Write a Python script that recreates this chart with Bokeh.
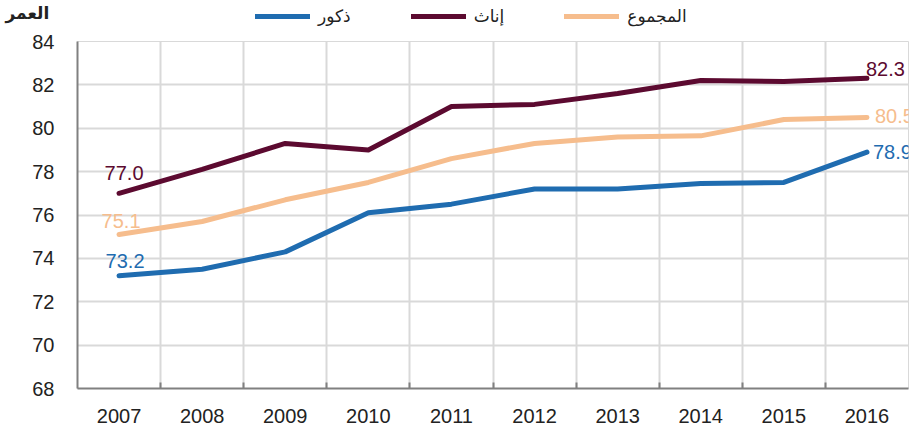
from bokeh.plotting import figure
from bokeh.layouts import column
from bokeh.models import (ColumnDataSource, FixedTicker, Legend, LegendItem, Range1d, Label)
from bokeh.core.properties import value
from bokeh.embed import file_html
from bokeh.resources import INLINE

years = [2007, 2008, 2009, 2010, 2011, 2012, 2013, 2014, 2015, 2016]
males = [73.2, 73.5, 74.3, 76.1, 76.5, 77.2, 77.2, 77.45, 77.5, 78.9]
females = [77.0, 78.1, 79.3, 79.0, 81.0, 81.1, 81.6, 82.2, 82.15, 82.3]
total = [75.1, 75.7, 76.7, 77.5, 78.6, 79.3, 79.6, 79.65, 80.4, 80.5]
y_ticks = [68, 70, 72, 74, 76, 78, 80, 82, 84]

name_m = "ذكور"
name_f = "إناث"
name_t = "المجموع"
y_title = "العمر"

c_m = "#1f6cb0"
c_f = "#5c0a30"
c_t = "#f6bd8d"

TICK_FONT = "Liberation Sans"
AR_FONT = "DejaVu Sans"

# ---------------- main chart ----------------
p = figure(width=917, height=399, output_backend="svg", toolbar_location=None,
           x_range=Range1d(years[0] - 0.5, years[-1] + 0.5),
           y_range=Range1d(y_ticks[0], y_ticks[-1]),
           min_border_left=77, min_border_right=9, min_border_top=12, min_border_bottom=40)

p.outline_line_color = "#d9d9d9"
p.outline_line_width = 1

p.line(years, males, line_color=c_m, line_width=5, line_cap="round", line_join="round")
p.line(years, females, line_color=c_f, line_width=5, line_cap="round", line_join="round")
p.line(years, total, line_color=c_t, line_width=5, line_cap="round", line_join="round")

p.xaxis.ticker = FixedTicker(ticks=years, minor_ticks=[y + 0.5 for y in years[:-1]])
p.xaxis.major_tick_line_color = None
p.xaxis.minor_tick_in = 6
p.xaxis.minor_tick_out = 0
p.xaxis.minor_tick_line_color = "#808080"
p.xaxis.minor_tick_line_width = 2
p.xaxis.axis_line_color = "#808080"
p.xaxis.axis_line_width = 2
p.xaxis.major_label_text_font = TICK_FONT
p.xaxis.major_label_text_font_size = "20px"
p.xaxis.major_label_text_color = "#222222"
p.xaxis.major_label_standoff = 14

p.yaxis.ticker = FixedTicker(ticks=y_ticks)
p.yaxis.major_tick_line_color = None
p.yaxis.minor_tick_line_color = None
p.yaxis.axis_line_color = "#808080"
p.yaxis.axis_line_width = 2
p.yaxis.major_label_text_font = TICK_FONT
p.yaxis.major_label_text_font_size = "20px"
p.yaxis.major_label_text_color = "#222222"
p.yaxis.major_label_standoff = 17

p.xgrid.ticker = FixedTicker(ticks=[y + 0.5 for y in years[:-1]])
p.xgrid.grid_line_color = "#d9d9d9"
p.xgrid.grid_line_width = 2
p.ygrid.grid_line_color = "#d9d9d9"
p.ygrid.grid_line_width = 2

start_src = ColumnDataSource(dict(
    x=[years[0]] * 3,
    y=[males[0], females[0], total[0]],
    t=[f"{males[0]:.1f}", f"{females[0]:.1f}", f"{total[0]:.1f}"],
    c=[c_m, c_f, c_t],
    dx=[6, 5, 2],
    dy=[-15, -20, -14],
))
p.text(x="x", y="y", text="t", text_color="c", x_offset="dx", y_offset="dy",
       text_align="center", text_baseline="middle", source=start_src,
       text_font=value(TICK_FONT), text_font_size="20px")

end_src = ColumnDataSource(dict(
    x=[years[-1]] * 3,
    y=[males[-1], females[-1], total[-1]],
    t=[f"{males[-1]:.1f}", f"{females[-1]:.1f}", f"{total[-1]:.1f}"],
    c=[c_m, c_f, c_t],
    dx=[6, -1, 8],
    dy=[0, -9, -1],
))
p.text(x="x", y="y", text="t", text_color="c", x_offset="dx", y_offset="dy",
       text_align="left", text_baseline="middle", source=end_src,
       text_font=value(TICK_FONT), text_font_size="20px")

# ---------------- header with axis title and legend ----------------
h = figure(width=917, height=29, output_backend="svg", toolbar_location=None,
           x_range=Range1d(0, 1), y_range=Range1d(0, 1),
           x_axis_location=None, y_axis_location=None,
           min_border_left=0, min_border_right=0, min_border_top=0, min_border_bottom=0)
h.frame_align = False
h.grid.visible = False
h.outline_line_color = None

# legend swatches (series lie outside this strip's range, only the key is seen)
k_m = h.line(years, males, line_color=c_m, line_width=5, line_cap="round")
k_f = h.line(years, females, line_color=c_f, line_width=5, line_cap="round")
k_t = h.line(years, total, line_color=c_t, line_width=5, line_cap="round")

legend = Legend(items=[LegendItem(label=name_m, renderers=[k_m]),
                       LegendItem(label=name_f, renderers=[k_f]),
                       LegendItem(label=name_t, renderers=[k_t])],
                orientation="horizontal", location=(255, 3),
                glyph_width=55, glyph_height=18, label_standoff=8, spacing=60,
                padding=0, margin=0, border_line_color=None, background_fill_alpha=0,
                label_text_font=AR_FONT, label_text_font_size="17px",
                label_text_color="#222222")
h.add_layout(legend, "center")

h.add_layout(Label(x=5, y=17, x_units="screen", y_units="screen", text=y_title,
                   text_align="left", text_baseline="middle",
                   text_font=AR_FONT, text_font_size="17px", text_font_style="bold",
                   text_color="#222222"))

layout = column(h, p, spacing=0)
open("out.html", "w").write(file_html(layout, INLINE))
